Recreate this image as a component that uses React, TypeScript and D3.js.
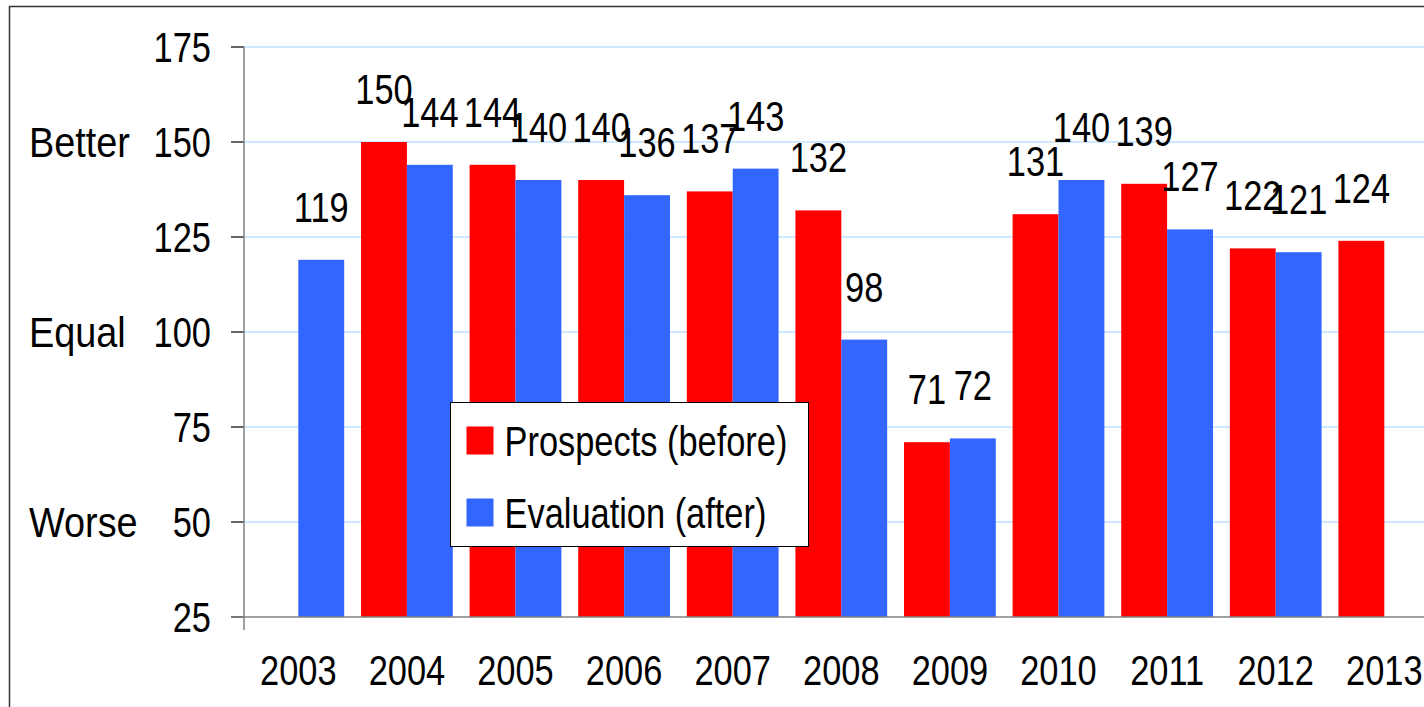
import React, { useRef, useEffect } from 'react'
import * as d3 from 'd3'

const years = ['2003', '2004', '2005', '2006', '2007', '2008', '2009', '2010', '2011', '2012', '2013']
const prospects: (number | null)[] = [null, 150, 144, 140, 137, 132, 71, 131, 139, 122, 124]
const evaluation: (number | null)[] = [119, 144, 140, 136, 143, 98, 72, 140, 127, 121, null]
const yTicks = [25, 50, 75, 100, 125, 150, 175]
const sideLabels = [
    { label: 'Better', value: 150 },
    { label: 'Equal', value: 100 },
    { label: 'Worse', value: 50 }
]
const seriesNames = ['Prospects (before)', 'Evaluation (after)']

const RED = '#ff0000'
const BLUE = '#3366ff'
const FONT = '"Liberation Sans", Arial, sans-serif'
const SQUEEZE = 0.8  // no condensed font installed, so squeeze horizontally

const App = () => {
    const chartRef = useRef<SVGSVGElement>(null)

    useEffect(() => {
        const W = 1424
        const H = 707
        const svg = d3.select(chartRef.current)
        svg.selectAll('*').remove()
        svg.attr('width', W).attr('height', H)

        svg.append('rect').attr('width', W).attr('height', H).attr('fill', '#fff')

        // condensed-looking text placed at (x, y)
        const label = (parent: any, x: number, y: number, txt: string, anchor = 'start', sx = SQUEEZE) =>
            parent.append('text')
                .attr('transform', `translate(${x},${y}) scale(${sx},1)`)
                .attr('text-anchor', anchor)
                .attr('font-family', FONT)
                .attr('font-size', 43)
                .attr('fill', '#000')
                .text(txt)

        // outer frame
        svg.append('rect')
            .attr('x', 9.5).attr('y', 6.5)
            .attr('width', W + 20).attr('height', H + 20)
            .attr('fill', 'none').attr('stroke', '#333').attr('stroke-width', 1.5)

        const axisX = 244
        const y = d3.scaleLinear().domain([25, 175]).range([617, 47])
        const x = d3.scaleBand<string>()
            .domain(years)
            .range([axisX, axisX + 108.6 * years.length])
            .paddingInner(0.155)
            .paddingOuter(0.0775)
        const x1 = d3.scaleBand<number>().domain([0, 1]).range([0, x.bandwidth()])

        // gridlines
        svg.append('g')
            .selectAll('line')
            .data(yTicks.filter(t => t !== 25))
            .enter()
            .append('line')
            .attr('x1', axisX).attr('x2', W)
            .attr('y1', d => y(d)).attr('y2', d => y(d))
            .attr('stroke', '#bfe0ff').attr('stroke-width', 1.5)

        // bars + value labels
        const series = [prospects, evaluation]
        const colors = [RED, BLUE]
        const labels = svg.append('g')
        series.forEach((vals, si) => {
            const data = years.map((yr, i) => ({ yr, v: vals[i] })).filter(d => d.v !== null)
            svg.append('g')
                .selectAll('rect')
                .data(data)
                .enter()
                .append('rect')
                .attr('x', d => (x(d.yr) as number) + (x1(si) as number))
                .attr('y', d => y(d.v as number))
                .attr('width', x1.bandwidth())
                .attr('height', d => y(25) - y(d.v as number))
                .attr('fill', colors[si])

            data.forEach(d => {
                const cx = (x(d.yr) as number) + (x1(si) as number) + x1.bandwidth() / 2
                label(labels, cx, y(d.v as number) - 38, String(d.v), 'middle')
            })
        })
        labels.raise()

        // y axis
        const ticks = svg.append('g')
        yTicks.forEach(t => {
            ticks.append('line')
                .attr('x1', axisX - 13).attr('x2', axisX)
                .attr('y1', y(t)).attr('y2', y(t))
                .attr('stroke', '#333').attr('stroke-width', 1.5)
            label(ticks, 211, y(t) + 15, String(t), 'end')
        })
        svg.append('line')
            .attr('x1', axisX).attr('x2', axisX)
            .attr('y1', y(175)).attr('y2', 630)
            .attr('stroke', '#808080').attr('stroke-width', 1.5)

        // x axis
        svg.append('line')
            .attr('x1', 231).attr('x2', W)
            .attr('y1', y(25)).attr('y2', y(25))
            .attr('stroke', '#808080').attr('stroke-width', 1.5)
        const xLabels = svg.append('g')
        years.forEach(yr => label(xLabels, (x(yr) as number) + x.bandwidth() / 2, 685, yr, 'middle'))

        // Better / Equal / Worse
        const side = svg.append('g')
        sideLabels.forEach(s => label(side, 29, y(s.value) + 15, s.label, 'start', 0.88))

        // legend
        const legend = svg.append('g').attr('transform', 'translate(450.5,402.5)')
        legend.append('rect')
            .attr('width', 358).attr('height', 144)
            .attr('fill', '#fff').attr('stroke', '#000').attr('stroke-width', 1)
        seriesNames.forEach((name, i) => {
            const row = legend.append('g').attr('transform', `translate(0, ${i * 72})`)
            row.append('rect')
                .attr('x', 16).attr('y', 24)
                .attr('width', 27).attr('height', 28)
                .attr('fill', colors[i])
            label(row, 54, 53, name)
        })
    }, [])

    return <svg ref={chartRef} style={{ position: 'absolute', left: 0, top: 0 }}></svg>
}

export default App
